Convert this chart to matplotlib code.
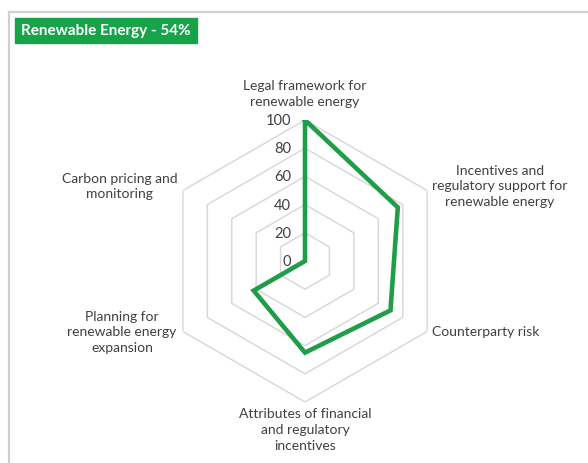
import matplotlib.pyplot as plt
import numpy as np
from matplotlib.lines import Line2D
from matplotlib.patches import Rectangle
from matplotlib.transforms import offset_copy

plt.rcParams['font.family'] = ['Lato', 'DejaVu Sans']

# data
categories = ['Legal framework for\nrenewable energy',
              'Incentives and\nregulatory support for\nrenewable energy',
              'Counterparty risk',
              'Attributes of financial\nand regulatory\nincentives',
              'Planning for\nrenewable energy\nexpansion',
              'Carbon pricing and\nmonitoring']
values = [100, 76, 70, 65, 42, 0]
ring_levels = [0, 20, 40, 60, 80, 100]
title = 'Renewable Energy - 54%'

green = '#1f9d48'
grid_col = '#d9d9d9'
text_col = '#404040'

fig = plt.figure(figsize=(5.88, 4.64), dpi=100)

# frame of the chart area
fig.add_artist(Line2D([9/588, 1], [1 - 13/464, 1 - 13/464], color='#d0d0d0', lw=1.6))
fig.add_artist(Line2D([9/588, 9/588], [0, 1 - 13/464], color='#d0d0d0', lw=1.6))

# title box
fig.add_artist(Rectangle((15/588, 1 - 44/464), 182/588, 25/464, color='#17a34a',
                         transform=fig.transFigure))
fig.text(106/588, 1 - 31.5/464, title, color='white', fontsize=11, fontweight='bold',
         ha='center', va='center')

cx, cy, R = 305/588, 1 - 262/464, 141
ax = fig.add_axes([cx - R/588, cy - R/464, 2*R/588, 2*R/464], projection='polar')
ax.set_theta_offset(np.pi/2)
ax.set_theta_direction(-1)
ax.set_ylim(0, 100)
ax.grid(False)
ax.spines['polar'].set_visible(False)
ax.set_xticks([])
ax.set_yticks([])
ax.patch.set_alpha(0)

n = len(categories)
angles = np.linspace(0, 2*np.pi, n, endpoint=False)
closed = np.append(angles, angles[0])

# hexagonal grid
for lv in ring_levels[1:]:
    ax.plot(closed, [lv]*(n + 1), color=grid_col, lw=1.1, zorder=1)

# data line
ax.plot(closed, values + values[:1], color=green, lw=3.3, zorder=3, solid_joinstyle='miter')

# radial tick labels
tr = offset_copy(ax.transData, fig=fig, x=-14, y=0, units='dots')
for lv in ring_levels:
    ax.text(0, lv, str(lv), transform=tr, ha='right', va='center',
            fontsize=10.5, color=text_col)

# category labels
label_pos = [((0, 13), 'center', 'bottom'),
             ((73, 5), 'center', 'center'),
             ((5, 0), 'left', 'center'),
             ((0, -5), 'center', 'top'),
             ((-61, 0), 'center', 'center'),
             ((-63, 5), 'center', 'center')]
for a, lab, (off, ha, va) in zip(angles, categories, label_pos):
    ax.annotate(lab, xy=(a, 100), xytext=off, textcoords='offset pixels',
                ha=ha, va=va, multialignment='center', fontsize=10,
                color=text_col, linespacing=1.38, annotation_clip=False)

fig.savefig('out.png', dpi=100)
